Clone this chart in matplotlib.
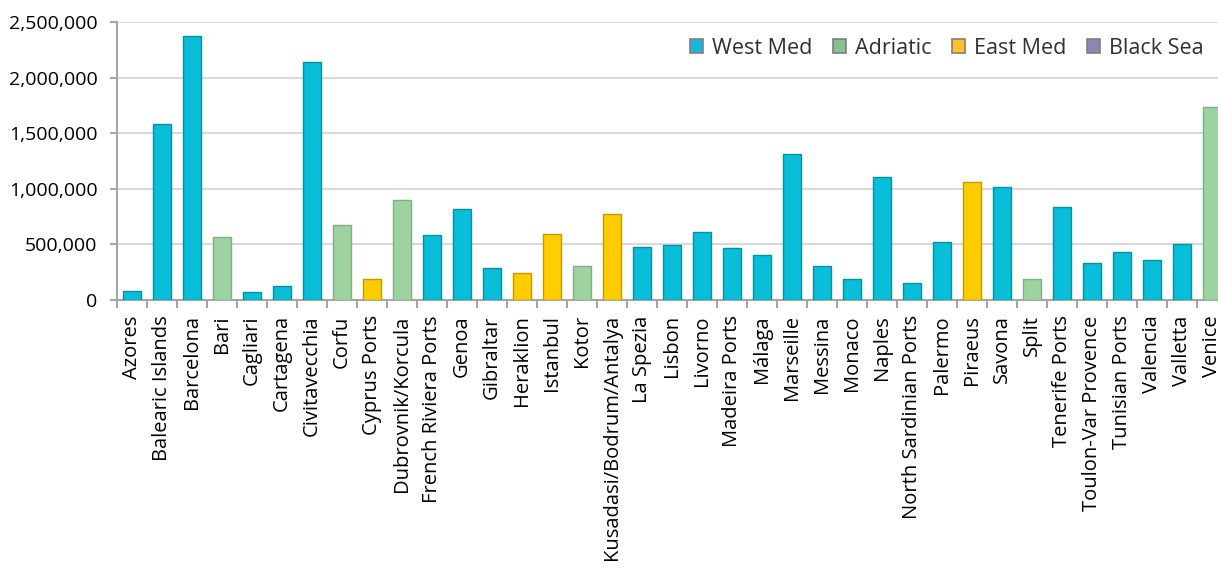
import matplotlib
matplotlib.use("Agg")
import matplotlib.pyplot as plt
from matplotlib.patches import Patch
from matplotlib.ticker import FuncFormatter, FixedLocator

ports = [
    "Azores", "Balearic Islands", "Barcelona", "Bari", "Cagliari", "Cartagena",
    "Civitavecchia", "Corfu", "Cyprus Ports", "Dubrovnik/Korcula",
    "French Riviera Ports", "Genoa", "Gibraltar", "Heraklion", "Istanbul",
    "Kotor", "Kusadasi/Bodrum/Antalya", "La Spezia", "Lisbon", "Livorno",
    "Madeira Ports", "Málaga", "Marseille", "Messina", "Monaco", "Naples",
    "North Sardinian Ports", "Palermo", "Piraeus", "Savona", "Split",
    "Tenerife Ports", "Toulon-Var Provence", "Tunisian Ports", "Valencia",
    "Valletta", "Venice",
]
passengers = [
    85000, 1585000, 2370000, 570000, 70000, 123000,
    2143000, 670000, 188000, 898000,
    587000, 817000, 291000, 241000, 592000,
    310000, 772000, 475000, 493000, 614000,
    466000, 403000, 1310000, 310000, 187000, 1110000,
    152000, 520000, 1057000, 1014000, 187000,
    835000, 331000, 430000, 361000, 505000,
    1740000,
]
regions = [
    "West Med", "West Med", "West Med", "Adriatic", "West Med", "West Med",
    "West Med", "Adriatic", "East Med", "Adriatic",
    "West Med", "West Med", "West Med", "East Med", "East Med",
    "Adriatic", "East Med", "West Med", "West Med", "West Med",
    "West Med", "West Med", "West Med", "West Med", "West Med", "West Med",
    "West Med", "West Med", "East Med", "West Med", "Adriatic",
    "West Med", "West Med", "West Med", "West Med", "West Med",
    "Adriatic",
]
region_names = ["West Med", "Adriatic", "East Med", "Black Sea"]

fill = {"West Med": "#08BED8", "Adriatic": "#9DD3A1",
        "East Med": "#FFCC00", "Black Sea": "#8A8AB0"}
edge = {"West Med": "#07909F", "Adriatic": "#7FAE84",
        "East Med": "#C09A00", "Black Sea": "#6A6A90"}
legend_fill = {"West Med": "#1AB8D8", "Adriatic": "#86C08C",
               "East Med": "#FFC22E", "Black Sea": "#8A8AB0"}

plt.rcParams["font.family"] = ["Open Sans", "DejaVu Sans"]

fig = plt.figure(figsize=(12.18, 5.70), dpi=100)
# the plot area runs past the right edge of the canvas
ax = fig.add_axes([117 / 1218, 1 - 300 / 570, 37 * 30 / 1218, 278 / 570])

x = list(range(len(ports)))
ax.bar(x, passengers, width=0.63,
       color=[fill[r] for r in regions],
       edgecolor=[edge[r] for r in regions], linewidth=1.0, zorder=3)

ax.set_xlim(-0.5, len(ports) - 0.5)
ax.set_ylim(0, 2500000)
ax.set_yticks(range(0, 2500001, 500000))
ax.yaxis.set_major_formatter(FuncFormatter(lambda v, p: f"{int(v):,}"))
ax.grid(axis="y", color="#D9D9D9", linewidth=1.5, zorder=0)
ax.set_axisbelow(True)

ax.set_xticks(x)
ax.set_xticklabels(ports, rotation=90, fontsize=14.5, color="#000000")
ax.xaxis.set_minor_locator(FixedLocator([i - 0.5 for i in range(len(ports) + 1)]))
ax.tick_params(axis="x", which="major", length=0, pad=11)
ax.tick_params(axis="x", which="minor", length=6, width=1.5, color="#A6A6A6")
ax.tick_params(axis="y", which="major", length=5, width=1.5, color="#A6A6A6",
               labelsize=14, pad=9, labelcolor="#000000")

for side in ("top", "right"):
    ax.spines[side].set_visible(False)
ax.spines["left"].set_color("#A6A6A6")
ax.spines["left"].set_linewidth(1.5)
ax.spines["bottom"].set_color("#A6A6A6")
ax.spines["bottom"].set_linewidth(1.5)

handles = [Patch(facecolor=legend_fill[r], edgecolor="#7F7F7F", linewidth=1.2,
                 label=r) for r in region_names]
ax.legend(handles=handles, loc="center right", ncol=4, frameon=False,
          bbox_to_anchor=(1204 / 1218, 1 - 48 / 570),
          bbox_transform=fig.transFigure, borderpad=0, borderaxespad=0,
          fontsize=15.5, handlelength=0.6, handleheight=0.6,
          handletextpad=0.45, columnspacing=0.93, labelcolor="#303030")

fig.savefig("out.png", dpi=100)
